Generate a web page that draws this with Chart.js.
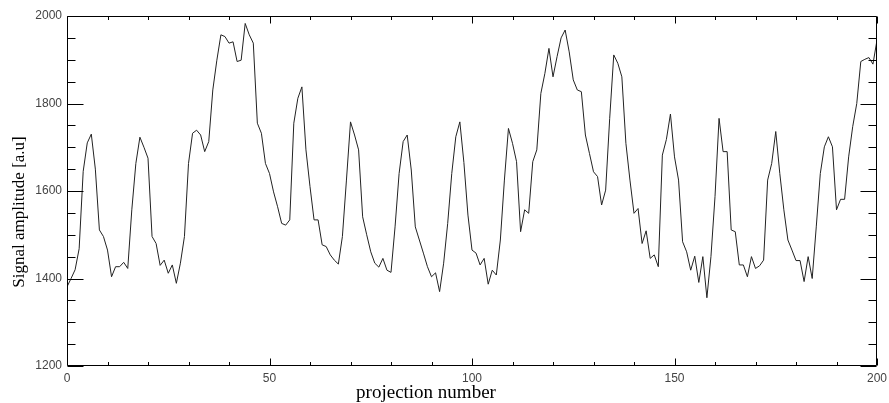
<!DOCTYPE html>
<html>
<head>
<meta charset="utf-8">
<script src="https://cdn.jsdelivr.net/npm/chart.js@4/dist/chart.umd.min.js"></script>
<style>
  html, body { margin: 0; padding: 0; background: #fff; }
  #c { display: block; }
</style>
</head>
<body>
<canvas id="c" width="889" height="403"></canvas>
<script>
// ---- data ----
const signalAmplitude = [
  1381,1400,1420,1468,1645,1710,1730,1650,1511,1496,
  1465,1404,1427,1427,1437,1423,1557,1663,1723,1700,
  1675,1496,1480,1430,1442,1412,1431,1389,1435,1496,
  1663,1732,1739,1728,1690,1713,1831,1899,1957,1953,
  1938,1941,1896,1899,1983,1957,1938,1755,1732,1663,
  1640,1598,1564,1526,1522,1534,1755,1812,1838,1694,
  1610,1534,1534,1477,1473,1454,1442,1433,1496,1625,
  1758,1728,1694,1541,1500,1461,1435,1426,1446,1419,
  1414,1518,1640,1713,1728,1648,1518,1488,1458,1427,
  1404,1413,1370,1435,1526,1640,1724,1758,1665,1545,
  1465,1458,1431,1446,1387,1419,1408,1488,1625,1743,
  1709,1667,1507,1557,1549,1667,1694,1823,1869,1926,
  1861,1907,1950,1968,1918,1854,1831,1827,1728,1686,
  1644,1633,1568,1602,1766,1911,1892,1861,1709,1625,
  1549,1560,1480,1509,1446,1454,1427,1682,1718,1776,
  1678,1625,1484,1461,1419,1451,1391,1450,1356,1450,
  1587,1766,1690,1690,1511,1507,1431,1431,1404,1450,
  1423,1429,1442,1625,1663,1736,1640,1557,1488,1465,
  1441,1441,1393,1450,1400,1518,1640,1701,1724,1701,
  1557,1581,1581,1678,1747,1800,1896,1901,1905,1890,
  1945
];
const projectionNumbers = signalAmplitude.map((_, i) => i);
const xTickLabels = [0, 50, 100, 150, 200];
const yTickLabels = [1200, 1400, 1600, 1800, 2000];
const xMinorStep = 10;
const yMinorStep = 50;
const xTitle = 'projection number';
const yTitle = 'Signal amplitude [a.u]';

// ---- frame, inward ticks and axis titles ----
const framePlugin = {
  id: 'idlFrame',
  afterDraw(chart) {
    const ctx = chart.ctx;
    const ca = chart.chartArea;
    const xs = chart.scales.x, ys = chart.scales.y;
    const L = Math.round(ca.left) + 0.5, R = Math.round(ca.right) - 0.5;
    const T = Math.round(ca.top) + 0.5, B = Math.round(ca.bottom) - 0.5;
    ctx.save();
    ctx.strokeStyle = '#000';
    ctx.lineWidth = 1;
    ctx.beginPath();
    ctx.rect(L, T, R - L, B - T);
    // x ticks (bottom and top, inward)
    for (let v = xTickLabels[0]; v <= xTickLabels[xTickLabels.length - 1]; v += xMinorStep) {
      const major = xTickLabels.includes(v);
      const len = major ? 7 : 3.5;
      const px = Math.round(xs.getPixelForValue(v)) + 0.5;
      ctx.moveTo(px, B); ctx.lineTo(px, B - len);
      ctx.moveTo(px, T); ctx.lineTo(px, T + len);
    }
    // y ticks (left and right, inward)
    for (let v = yTickLabels[0]; v <= yTickLabels[yTickLabels.length - 1]; v += yMinorStep) {
      const major = yTickLabels.includes(v);
      const len = major ? 16 : 8;
      const py = Math.round(ys.getPixelForValue(v)) + 0.5;
      ctx.moveTo(L, py); ctx.lineTo(L + len, py);
      ctx.moveTo(R, py); ctx.lineTo(R - len, py);
    }
    ctx.stroke();

    // axis titles
    ctx.fillStyle = '#000';
    ctx.textAlign = 'center';
    ctx.textBaseline = 'middle';
    ctx.font = '19px "Liberation Serif", "Times New Roman", serif';
    ctx.fillText(xTitle, 426, 393);
    ctx.translate(20, 212);
    ctx.rotate(-Math.PI / 2);
    ctx.font = '17px "Liberation Serif", "Times New Roman", serif';
    ctx.fillText(yTitle, 0, 0);
    ctx.restore();
  }
};

const tickFont = { family: '"Liberation Sans", Arial, sans-serif', size: 12 };

new Chart(document.getElementById('c'), {
  type: 'line',
  data: {
    datasets: [{
      data: projectionNumbers.map((x, i) => ({ x: x, y: signalAmplitude[i] })),
      borderColor: '#222',
      borderWidth: 1,
      pointRadius: 0,
      tension: 0,
      fill: false
    }]
  },
  options: {
    responsive: false,
    animation: false,
    devicePixelRatio: 1,
    layout: { padding: { left: 0, right: 12, top: 16, bottom: 0 } },
    plugins: { legend: { display: false }, tooltip: { enabled: false } },
    scales: {
      x: {
        type: 'linear',
        min: xTickLabels[0],
        max: xTickLabels[xTickLabels.length - 1],
        afterBuildTicks(scale) { scale.ticks = xTickLabels.map(v => ({ value: v })); },
        ticks: { font: tickFont, color: '#444', padding: 5, maxRotation: 0, autoSkip: false,
                 callback: v => String(v) },
        grid: { display: false, drawTicks: false },
        border: { display: false },
        afterFit(scale) { scale.height = 37; scale.paddingLeft = 0; scale.paddingRight = 0; }
      },
      y: {
        type: 'linear',
        min: yTickLabels[0],
        max: yTickLabels[yTickLabels.length - 1],
        afterBuildTicks(scale) { scale.ticks = yTickLabels.map(v => ({ value: v })); },
        ticks: { font: tickFont, color: '#444', padding: 5, autoSkip: false,
                 callback: v => String(v) },
        grid: { display: false, drawTicks: false },
        border: { display: false },
        afterFit(scale) { scale.width = 67; scale.paddingTop = 0; scale.paddingBottom = 0; }
      }
    }
  },
  plugins: [framePlugin]
});
</script>
</body>
</html>
